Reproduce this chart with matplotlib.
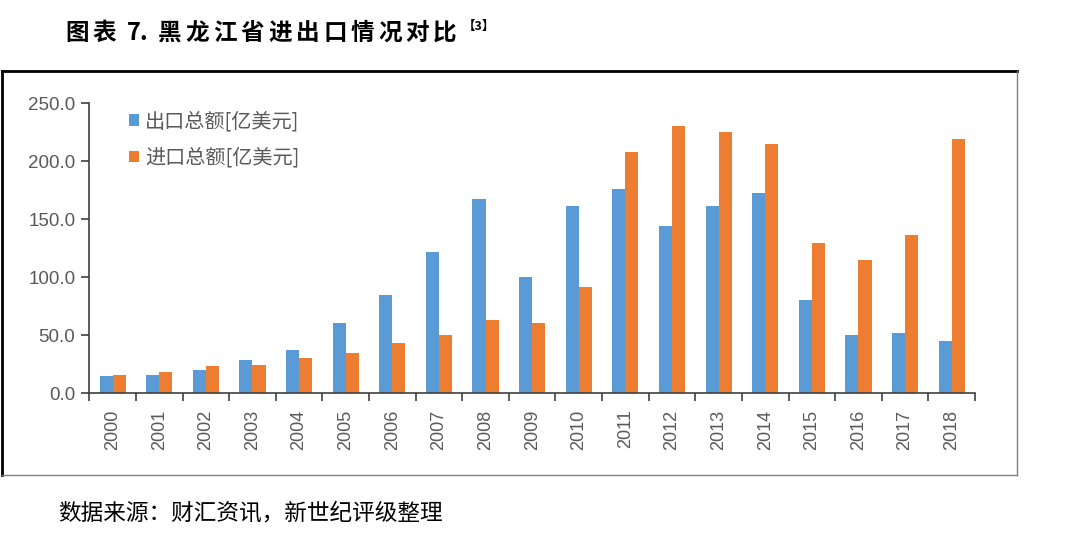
import matplotlib
matplotlib.use("Agg")
import matplotlib.pyplot as plt
import numpy as np

plt.rcParams['font.family'] = ['Liberation Sans', 'Noto Sans CJK SC', 'DejaVu Sans']
cjk = ['Noto Sans CJK SC', 'DejaVu Sans']

years = [str(y) for y in range(2000, 2019)]
exports = [14.4, 15.5, 19.8, 28.4, 37.1, 60.6, 84.5, 122.1, 167.2, 100.3,
           161.8, 175.9, 143.7, 161.8, 172.7, 80.2, 50.0, 52.0, 44.5]
imports = [15.5, 17.8, 23.0, 24.1, 30.5, 34.5, 43.4, 50.0, 62.9, 60.6,
           91.7, 208.0, 230.7, 225.6, 214.7, 129.6, 114.7, 136.2, 219.0]
yticks = [0, 50, 100, 150, 200, 250]

W, H = 1080, 548
fig = plt.figure(figsize=(W / 100, H / 100), dpi=100)

# outer frame around the chart
fx0, fx1, fy0, fy1 = 2, 1017, 71, 475
fig.add_artist(plt.Line2D([fx0 / W, fx0 / W], [1 - fy0 / H, 1 - fy1 / H], color='black', lw=2))
fig.add_artist(plt.Line2D([fx0 / W, fx1 / W], [1 - fy0 / H, 1 - fy0 / H], color='black', lw=2))
fig.add_artist(plt.Line2D([fx1 / W, fx1 / W], [1 - fy0 / H, 1 - fy1 / H], color='#808080', lw=1))
fig.add_artist(plt.Line2D([fx0 / W, fx1 / W], [1 - fy1 / H, 1 - fy1 / H], color='#808080', lw=1))

ax = fig.add_axes([89.3 / W, 1 - 393 / H, (975 - 89.3) / W, (393 - 103.3) / H])

x = np.arange(len(years))
bw = 0.28
ax.bar(x - bw / 2, exports, bw, color='#5B9BD5', label='出口总额[亿美元]')
ax.bar(x + bw / 2, imports, bw, color='#ED7D31', label='进口总额[亿美元]')

ax.set_xlim(-0.5, len(years) - 0.5)
ax.set_ylim(0, 250)
ax.set_yticks(yticks)
ax.set_yticklabels([f'{v:.1f}' for v in yticks])
ax.set_xticks(x)
ax.set_xticklabels(years, rotation=90)
ax.set_xticks(np.arange(-0.5, len(years)), minor=True)
ax.tick_params(axis='x', which='major', length=0, pad=12, labelsize=13, colors='#595959')
ax.tick_params(axis='x', which='minor', length=6, width=1.2, color='#404040', direction='out')
ax.tick_params(axis='y', length=6, width=1.2, color='#404040', labelsize=13.5, labelcolor='#595959', pad=4)

for s in ['top', 'right']:
    ax.spines[s].set_visible(False)
for s in ['left', 'bottom']:
    ax.spines[s].set_color('#404040')
    ax.spines[s].set_linewidth(1.2)

ax.legend(loc='upper left', bbox_to_anchor=(0.024, 1.035), frameon=False,
          prop={'family': cjk, 'size': 14.5},
          handlelength=0.5, handleheight=0.5, handletextpad=0.3, labelspacing=0.75,
          labelcolor='#595959')

# title, characters spaced out like the source document
title = ['图', '表', ' ', '7', '.', ' ', '黑', '龙', '江', '省', '进', '出', '口', '情', '况', '对', '比']
pos = 65
for ch in title:
    if ch.strip():
        fig.text(pos / W, 1 - 33 / H, ch, fontsize=17, fontweight='bold', family=cjk,
                 va='center', ha='left')
    if ch in '7.':
        pos += 12
    elif ch == ' ':
        pos += 7
    else:
        pos += 27.5
fig.text((pos + 2) / W, 1 - 26 / H, '【3】', fontsize=9, fontweight='bold', family=cjk,
         va='center', ha='left')

fig.text(58 / W, 1 - 513 / H, '数据来源：财汇资讯，新世纪评级整理', fontsize=16.3,
         family=cjk, va='center', ha='left')

fig.savefig('out.png', dpi=100)
